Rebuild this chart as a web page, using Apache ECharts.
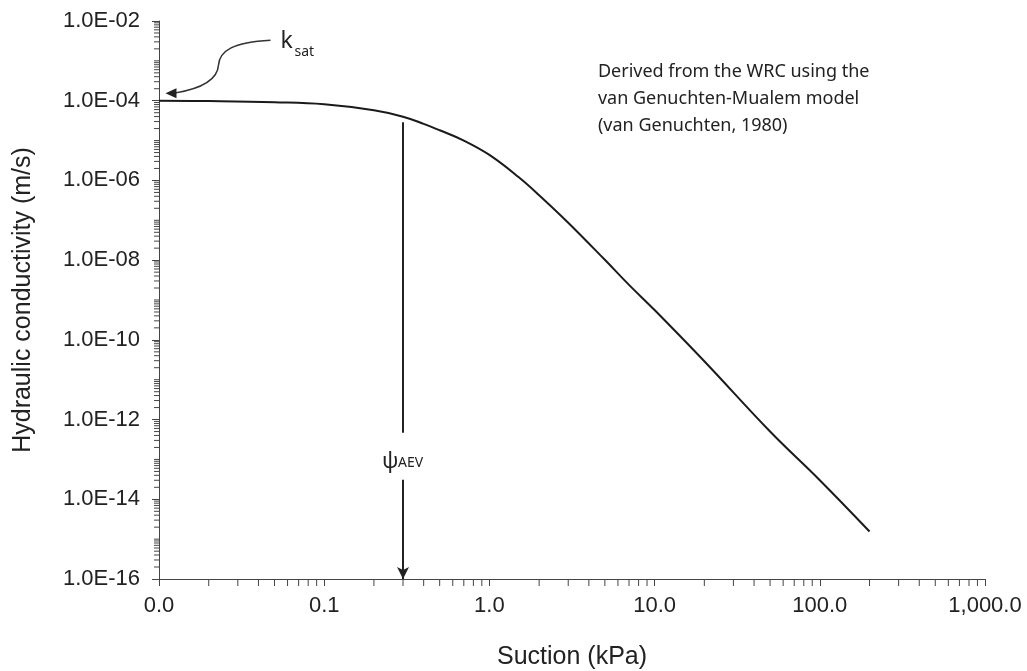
<!DOCTYPE html>
<html>
<head>
<meta charset="utf-8">
<script src="https://cdn.jsdelivr.net/npm/echarts@6/dist/echarts.min.js"></script>
<style>
  html, body { margin: 0; padding: 0; background: #fff; }
  #chart { width: 1027px; height: 671px; }
</style>
</head>
<body>
<div id="chart"></div>
<script>
  // suction (kPa) and hydraulic conductivity (m/s)
  var suction = [0.01, 0.02, 0.05, 0.1, 0.2, 0.3, 0.4, 0.5, 0.7, 1.0, 1.5, 2, 3, 5, 7, 10, 20, 50, 100, 200]
  var conductivity = [1.0e-4, 9.77e-5, 9.12e-5, 8.13e-5, 5.75e-5, 3.98e-5, 2.63e-5, 1.82e-5, 1.0e-5, 4.37e-6,
    1.22e-6, 4.27e-7, 8.7e-8, 1.02e-8, 2.4e-9, 5.6e-10, 2.9e-11, 5.0e-13, 3.0e-14, 1.55e-15]

  var xTicks = [0.01, 0.1, 1, 10, 100, 1000]
  var yTicks = [1e-16, 1e-14, 1e-12, 1e-10, 1e-8, 1e-6, 1e-4, 1e-2]

  // air entry value marker
  var aevSuction = 0.3
  var aevTop = 2.9e-5
  var aevGapTop = 4.7e-13
  var aevGapBottom = 3.1e-14

  var noteLines = ['Derived from the WRC using the', 'van Genuchten-Mualem model', '(van Genuchten, 1980)']

  // minor ticks at 2..9 x 10^k (and the odd decades on the y axis)
  var xMinor = []
  for (var e = -2; e < 3; e++) {
    for (var m = 2; m <= 9; m++) xMinor.push([m * Math.pow(10, e), yTicks[0]])
  }
  var yMinor = []
  for (var k = -16; k < -2; k++) {
    for (var j = 1; j <= 9; j++) {
      if (j === 1 && k % 2 === 0) continue
      yMinor.push([xTicks[0], j * Math.pow(10, k)])
    }
  }

  var axisColor = '#444'
  var textColor = '#222'
  var axisFont = 'Liberation Sans, Arial'
  var noteFont = 'Noto Sans'

  function fmtX (v) {
    return Number(v).toLocaleString('en-US', {minimumFractionDigits: 1, maximumFractionDigits: 1})
  }
  function fmtY (v) {
    var ex = Math.round(Math.log10(v))
    var a = Math.abs(ex)
    return '1.0E' + (ex < 0 ? '-' : '+') + (a < 10 ? '0' + a : a)
  }

  var chart = echarts.init(document.getElementById('chart'))
  var option = {
    animation: false,
    grid: {left: 159, right: 42, top: 21, bottom: 92, containLabel: false, outerBoundsMode: 'none'},
    xAxis: {
      type: 'log',
      logBase: 10,
      min: 0.01,
      max: 1000,
      interval: 1,
      name: 'Suction (kPa)',
      nameLocation: 'middle',
      nameGap: 66,
      nameTextStyle: {fontFamily: axisFont, fontSize: 25, color: textColor},
      axisLine: {lineStyle: {color: axisColor, width: 1}},
      axisTick: {show: true, length: 7, lineStyle: {color: axisColor}},
      axisLabel: {formatter: fmtX, margin: 16, fontFamily: axisFont, fontSize: 22, color: textColor},
      splitLine: {show: false}
    },
    yAxis: {
      type: 'log',
      logBase: 10,
      min: 1e-16,
      max: 1e-2,
      interval: 2,
      name: 'Hydraulic conductivity (m/s)',
      nameLocation: 'middle',
      nameGap: 123,
      nameTextStyle: {fontFamily: axisFont, fontSize: 25, color: textColor},
      axisLine: {lineStyle: {color: axisColor, width: 1}},
      axisTick: {show: true, length: 7, lineStyle: {color: axisColor}},
      axisLabel: {formatter: fmtY, margin: 19, fontFamily: axisFont, fontSize: 22, color: textColor},
      splitLine: {show: false}
    },
    series: [
      {
        name: 'k',
        type: 'line',
        data: suction.map(function (s, i) { return [s, conductivity[i]] }),
        smooth: 0.4,
        showSymbol: false,
        lineStyle: {color: '#1a1a1a', width: 2},
        z: 5,
        markLine: {
          silent: true,
          animation: false,
          symbol: ['none', 'none'],
          label: {show: false},
          lineStyle: {color: '#222', width: 2, type: 'solid'},
          data: [
            [{coord: [aevSuction, aevTop]}, {coord: [aevSuction, aevGapTop]}],
            [{coord: [aevSuction, aevGapBottom]}, {coord: [aevSuction, yTicks[0]], symbol: 'arrow', symbolSize: [9, 12]}]
          ]
        }
      },
      {
        type: 'custom',
        silent: true,
        clip: false,
        data: xMinor,
        renderItem: function (params, api) {
          var p = api.coord([api.value(0), api.value(1)])
          return {type: 'line', shape: {x1: p[0], y1: p[1], x2: p[0], y2: p[1] + 7}, style: {stroke: axisColor, lineWidth: 1}}
        }
      },
      {
        type: 'custom',
        silent: true,
        clip: false,
        data: yMinor,
        renderItem: function (params, api) {
          var p = api.coord([api.value(0), api.value(1)])
          return {type: 'line', shape: {x1: p[0] - 5, y1: p[1], x2: p[0], y2: p[1]}, style: {stroke: axisColor, lineWidth: 1}}
        }
      }
    ]
  }
  chart.setOption(option)

  // annotations placed from axis values
  function px (x, y) {
    return chart.convertToPixel({gridIndex: 0}, [x, y])
  }
  var tip = px(0.0111, 1.55e-4)
  var aevLabel = px(aevSuction, 8.7e-14)
  var note = px(4.54, 1.16e-3)

  chart.setOption({
    graphic: [
      {
        type: 'group',
        x: tip[0],
        y: tip[1],
        children: [
          {
            type: 'bezierCurve',
            shape: {x1: 104, y1: -53, cpx1: 66, cpy1: -51, cpx2: 53, cpy2: -42, x2: 52, y2: -28},
            style: {fill: null, stroke: '#333', lineWidth: 1.5}
          },
          {
            type: 'bezierCurve',
            shape: {x1: 52, y1: -28, cpx1: 51, cpy1: -12, cpx2: 32, cpy2: -4, x2: 8, y2: 0},
            style: {fill: null, stroke: '#333', lineWidth: 1.5}
          },
          {
            type: 'polygon',
            shape: {points: [[-1, 0], [10, -5], [10, 5]]},
            style: {fill: '#222'}
          },
          {
            type: 'text',
            x: 114,
            y: -52,
            style: {text: 'k', fontFamily: noteFont, fontSize: 23, fill: textColor, verticalAlign: 'middle'}
          },
          {
            type: 'text',
            x: 128,
            y: -41,
            style: {text: 'sat', fontFamily: noteFont, fontSize: 14, fill: textColor, verticalAlign: 'middle'}
          }
        ]
      },
      {
        type: 'text',
        x: aevLabel[0] - 21,
        y: aevLabel[1],
        style: {text: 'ψ', fontFamily: noteFont, fontSize: 22, fill: textColor, verticalAlign: 'middle'}
      },
      {
        type: 'text',
        x: aevLabel[0] - 5,
        y: aevLabel[1] + 1,
        style: {text: 'AEV', fontFamily: noteFont, fontSize: 14, fill: textColor, verticalAlign: 'middle'}
      },
      {
        type: 'text',
        x: note[0],
        y: note[1],
        style: {text: noteLines.join('\n'), fontFamily: noteFont, fontSize: 18, lineHeight: 27, fill: textColor}
      }
    ]
  })
  window.addEventListener('resize', function () { chart.resize() })
</script>
</body>
</html>
